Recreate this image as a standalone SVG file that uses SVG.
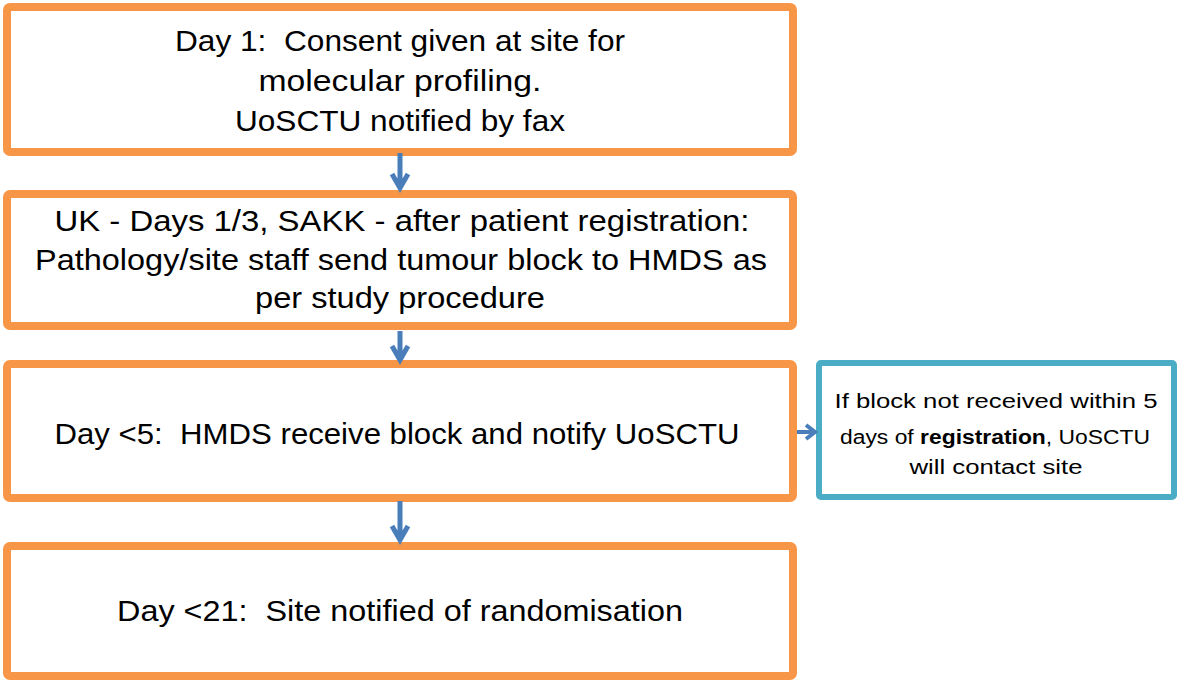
<svg xmlns="http://www.w3.org/2000/svg" width="1177" height="680" viewBox="0 0 1177 680">
<style>
.box{fill:#fff;stroke:#F79646;stroke-width:8}
.side{fill:#fff;stroke:#4BACC6;stroke-width:6}
.t{font-family:"Liberation Sans",Arial,sans-serif;font-size:29px;fill:#000;text-anchor:middle;white-space:pre}
.s{font-family:"Liberation Sans",Arial,sans-serif;font-size:20px;fill:#000;text-anchor:middle}
.c{stroke:#4A7EBB;stroke-width:5;fill:none}
</style>
<rect width="1177" height="680" fill="#fff"/>
<g id="n1">
<rect class="box" x="7" y="7" width="786" height="145" rx="3"/>
<text class="t" x="400" y="51" textLength="450" lengthAdjust="spacingAndGlyphs" xml:space="preserve">Day 1:  Consent given at site for</text>
<text class="t" x="400" y="91" textLength="283" lengthAdjust="spacingAndGlyphs">molecular profiling.</text>
<text class="t" x="400" y="131" textLength="330" lengthAdjust="spacingAndGlyphs">UoSCTU notified by fax</text>
</g>
<g id="n2">
<rect class="box" x="7" y="194" width="786" height="132" rx="3"/>
<text class="t" x="402" y="231" textLength="695" lengthAdjust="spacingAndGlyphs">UK - Days 1/3, SAKK - after patient registration:</text>
<text class="t" x="401" y="270" textLength="732" lengthAdjust="spacingAndGlyphs">Pathology/site staff send tumour block to HMDS as</text>
<text class="t" x="400" y="308" textLength="290" lengthAdjust="spacingAndGlyphs">per study procedure</text>
</g>
<g id="n3">
<rect class="box" x="7" y="364" width="786" height="134" rx="3"/>
<text class="t" x="397" y="444" textLength="685" lengthAdjust="spacingAndGlyphs" xml:space="preserve">Day &lt;5:  HMDS receive block and notify UoSCTU</text>
</g>
<g id="n5">
<rect class="side" x="819" y="363" width="355" height="134" rx="2"/>
<text class="s" x="996" y="408" textLength="323" lengthAdjust="spacingAndGlyphs">If block not received within 5</text>
<text class="s" x="995" y="444" textLength="310" lengthAdjust="spacingAndGlyphs">days of <tspan font-weight="bold">registration</tspan>, UoSCTU</text>
<text class="s" x="996" y="474" textLength="173" lengthAdjust="spacingAndGlyphs">will contact site</text>
</g>
<g id="n4">
<rect class="box" x="7" y="546" width="786" height="130" rx="3"/>
<text class="t" x="400" y="621" textLength="566" lengthAdjust="spacingAndGlyphs" xml:space="preserve">Day &lt;21:  Site notified of randomisation</text>
</g>
<g id="connectors">
<path class="c" d="M400 153 V188 M392 174 L400 188 L408 174"/>
<path class="c" d="M400 331 V358 M392 346 L400 360 L408 346"/>
<path class="c" d="M400 501 V540 M392 526 L400 540 L408 526"/>
<path class="c" d="M797 432 H814 M806 425 L815 432 L806 439" style="stroke-width:4"/>
</g>
</svg>
